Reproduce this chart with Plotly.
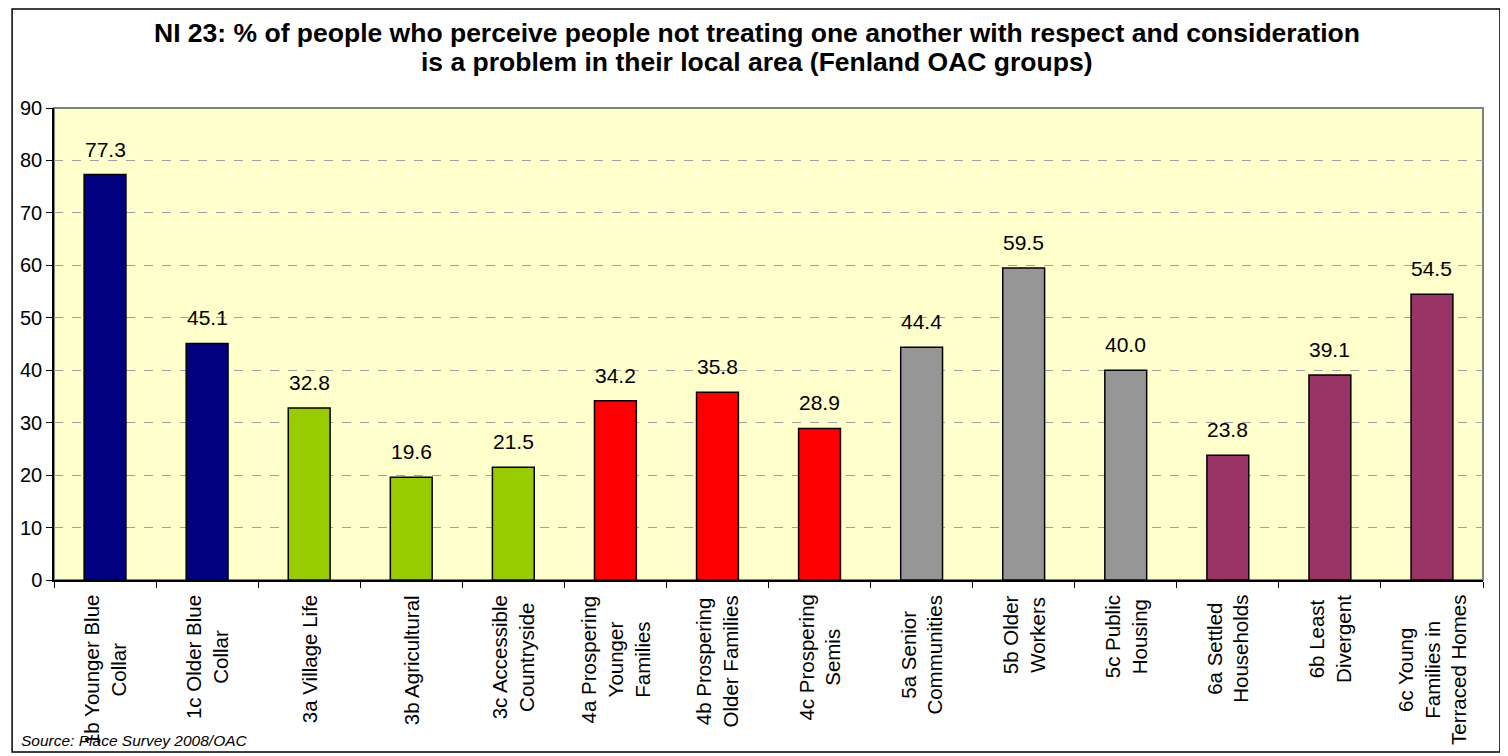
import plotly.graph_objects as go

categories = [
    "1b Younger Blue<br>Collar",
    "1c Older Blue<br>Collar",
    "3a Village Life",
    "3b Agricultural",
    "3c Accessible<br>Countryside",
    "4a Prospering<br>Younger<br>Families",
    "4b Prospering<br>Older Families",
    "4c Prospering<br>Semis",
    "5a Senior<br>Communities",
    "5b Older<br>Workers",
    "5c Public<br>Housing",
    "6a Settled<br>Households",
    "6b Least<br>Divergent",
    "6c Young<br>Families in<br>Terraced Homes",
]
values = [77.3, 45.1, 32.8, 19.6, 21.5, 34.2, 35.8, 28.9, 44.4, 59.5, 40.0, 23.8, 39.1, 54.5]
colors = ["#000080", "#000080", "#99CC00", "#99CC00", "#99CC00", "#FF0000", "#FF0000",
          "#FF0000", "#969696", "#969696", "#969696", "#993366", "#993366", "#993366"]
y_ticks = [0, 10, 20, 30, 40, 50, 60, 70, 80, 90]

title_lines = ["NI 23: % of people who perceive people not treating one another with respect and consideration",
               "is a problem in their local area (Fenland OAC groups)"]
source_text = "Source: Place Survey 2008/OAC"

# page offset (browser body margin)
OX, OY = 8, 8
W, H = 1508 - OX, 756 - OY
L, R, T, B = 51 - OX, 25, 108 - OY, 176
pw, ph = W - L - R, H - T - B


def px(x):
    return (x - OX - L) / pw


def py(y):
    return (H - B - (y - OY)) / ph


FONT = "Liberation Sans, Arial, sans-serif"

fig = go.Figure()
fig.add_trace(go.Bar(
    x=list(range(len(categories))), y=values,
    marker=dict(color=colors, line=dict(color="black", width=1.5)),
    width=0.41, hoverinfo="skip",
))

annotations = []
for i, (c, v) in enumerate(zip(categories, values)):
    annotations.append(dict(x=i, y=v, xref="x", yref="y", text=f"{v:.1f}", showarrow=False,
                            yanchor="bottom", yshift=12, font=dict(size=21, color="black", family=FONT)))
    annotations.append(dict(x=i, y=0, xref="x", yref="y", text=c, showarrow=False, textangle=-90,
                            yanchor="top", xanchor="center", align="center", yshift=-13,
                            font=dict(size=20.5, color="black", family=FONT)))

for line, yc in zip(title_lines, [33, 62]):
    annotations.append(dict(x=px(755), y=py(yc), xref="paper", yref="paper", text="<b>" + line + "</b>",
                            showarrow=False, xanchor="center", yanchor="middle", align="center",
                            font=dict(size=26.5, color="black", family=FONT)))
annotations.append(dict(x=px(16), y=py(740), xref="paper", yref="paper", text="<i>" + source_text + "</i>",
                        showarrow=False, xanchor="left", yanchor="middle",
                        font=dict(size=15.5, color="black", family=FONT)))

shapes = [
    dict(type="rect", xref="paper", yref="paper", x0=0, x1=1, y0=0, y1=1,
         line=dict(color="#808080", width=2), layer="below"),
    dict(type="rect", xref="paper", yref="paper",
         x0=px(OX + 1), x1=px(1500), y0=py(752), y1=py(OY + 1),
         line=dict(color="black", width=1.5), layer="above"),
]

fig.update_layout(
    width=W, height=H,
    margin=dict(l=L, r=R, t=T, b=B, pad=0),
    paper_bgcolor="white", plot_bgcolor="#FFFFCC",
    showlegend=False,
    font=dict(family=FONT, color="black"),
    annotations=annotations, shapes=shapes,
    xaxis=dict(type="linear", range=[-0.5, len(categories) - 0.5], showticklabels=False,
               tickmode="array", tickvals=[i - 0.5 for i in range(len(categories) + 1)],
               ticks="outside", ticklen=6, tickcolor="black", showgrid=False, zeroline=False,
               showline=True, linecolor="black", linewidth=1.5, fixedrange=True),
    yaxis=dict(range=[0, 90], tickmode="array", tickvals=y_ticks, ticks="outside", ticklen=6,
               tickcolor="black", tickfont=dict(size=20, family=FONT), showline=True, linecolor="black",
               linewidth=1.5, gridcolor="#A0A0A0", griddash="dash", gridwidth=1, zeroline=False,
               fixedrange=True),
)

fig.write_html("out.html")
